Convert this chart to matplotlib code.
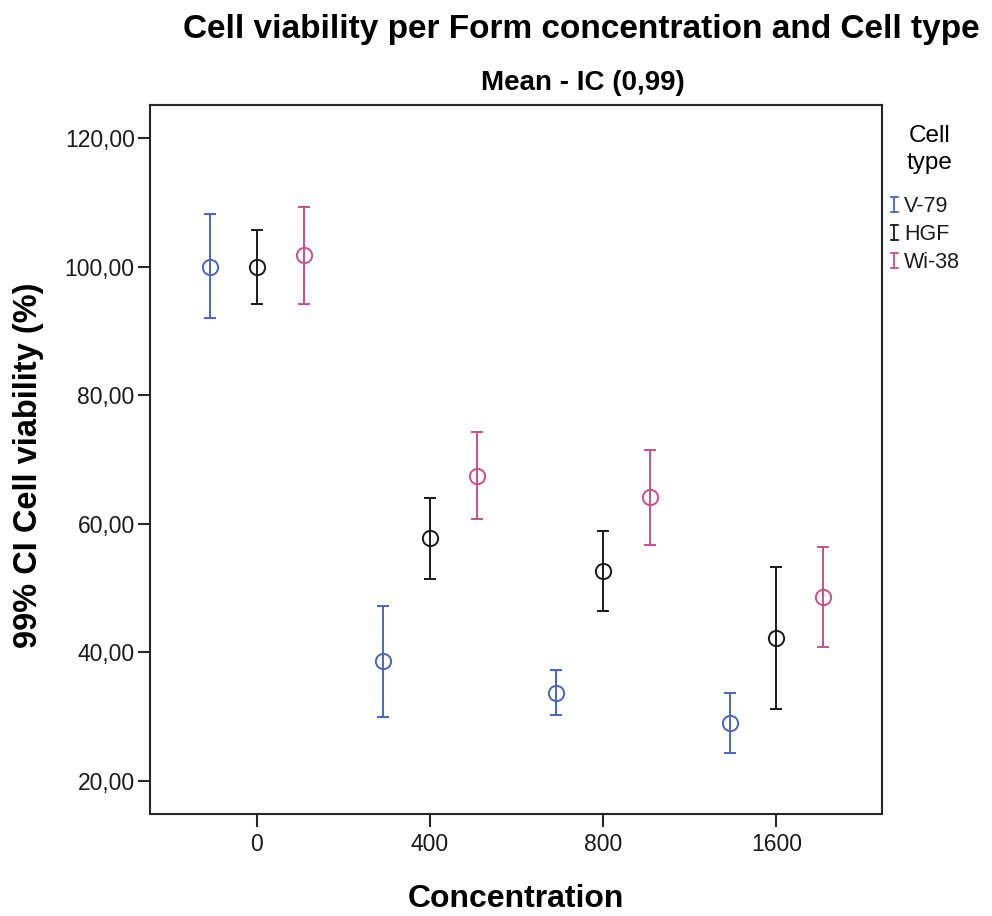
import matplotlib
matplotlib.use("Agg")
import matplotlib.pyplot as plt
from matplotlib.lines import Line2D
from matplotlib.ticker import FuncFormatter
import numpy as np

# ------------------------------------------------------------
# Data
# ------------------------------------------------------------
concentrations = ["0", "400", "800", "1600"]
cell_types = ["V-79", "HGF", "Wi-38"]

v79_mean = [100.0, 38.7, 33.7, 29.0]
v79_low = [92.0, 29.9, 30.2, 24.4]
v79_high = [108.2, 47.3, 37.2, 33.7]

hgf_mean = [100.0, 57.8, 52.7, 42.2]
hgf_low = [94.2, 51.4, 46.5, 31.2]
hgf_high = [105.8, 64.1, 58.9, 53.3]

wi38_mean = [101.8, 67.5, 64.2, 48.6]
wi38_low = [94.3, 60.7, 56.7, 40.8]
wi38_high = [109.3, 74.3, 71.5, 56.4]

y_ticks = [20, 40, 60, 80, 100, 120]

# ------------------------------------------------------------
# Style
# ------------------------------------------------------------
plt.rcParams["font.family"] = ["Liberation Sans", "DejaVu Sans"]
colors = ["#4a64c6", "#1a1a1a", "#cf4d8c"]
offsets = [-0.27, 0.0, 0.27]
spine_color = "#262626"
W, H = 992, 916


def fx(px):
    return px / W


def fy(py):
    return 1 - py / H


fig = plt.figure(figsize=(W / 100, H / 100), dpi=100)
ax = fig.add_axes([0.1512, 0.1114, 0.7378, 0.774])

series = [
    (v79_mean, v79_low, v79_high),
    (hgf_mean, hgf_low, hgf_high),
    (wi38_mean, wi38_low, wi38_high),
]

x = np.arange(len(concentrations))
for (mean, low, high), col, off in zip(series, colors, offsets):
    mean = np.array(mean)
    yerr = [mean - np.array(low), np.array(high) - mean]
    ax.errorbar(x + off, mean, yerr=yerr, fmt="none", ecolor=col,
                elinewidth=1.4, capsize=4, capthick=1.4)
    ax.plot(x + off, mean, linestyle="none", marker="o", markersize=11,
            markerfacecolor="none", markeredgecolor=col, markeredgewidth=1.4)

ax.set_xlim(-0.617, 3.61)
ax.set_ylim(14.86, 125.2)
ax.set_xticks(x)
ax.set_xticklabels(concentrations)
ax.set_yticks(y_ticks)
ax.yaxis.set_major_formatter(FuncFormatter(lambda v, p: f"{v:.2f}".replace(".", ",")))

for s in ax.spines.values():
    s.set_color(spine_color)
    s.set_linewidth(1.5)
ax.tick_params(axis="both", direction="out", length=9, width=1.5,
               color=spine_color, labelsize=16.5, labelcolor="#1a1a1a")
ax.tick_params(axis="y", pad=2)
ax.tick_params(axis="x", pad=5)

# Titles and axis labels
fig.text(fx(581), fy(38), "Cell viability per Form concentration and Cell type",
         ha="center", va="baseline", fontsize=24, fontweight="bold")
fig.text(fx(583), fy(90), "Mean - IC (0,99)",
         ha="center", va="baseline", fontsize=20, fontweight="bold")
fig.text(fx(29), fy(465), "99% CI Cell viability (%)",
         ha="center", va="center", rotation=90, fontsize=23.5, fontweight="bold")
fig.text(fx(516), fy(907), "Concentration",
         ha="center", va="baseline", fontsize=23, fontweight="bold")

# Legend (drawn by hand to get the I-shaped error bar keys)
fig.text(fx(930), fy(142), "Cell", ha="center", va="baseline", fontsize=17.5)
fig.text(fx(930), fy(169), "type", ha="center", va="baseline", fontsize=17.5)
legend_baselines = [212, 240, 268]
for name, col, base in zip(cell_types, colors, legend_baselines):
    top, bot, xc, half = base - 15, base, 894, 3.5
    fig.add_artist(Line2D([fx(xc), fx(xc)], [fy(top), fy(bot)], color=col, lw=1.3))
    fig.add_artist(Line2D([fx(xc - half), fx(xc + half)], [fy(top), fy(top)], color=col, lw=1.3))
    fig.add_artist(Line2D([fx(xc - half), fx(xc + half)], [fy(bot), fy(bot)], color=col, lw=1.3))
    fig.text(fx(904), fy(base), name, ha="left", va="baseline", fontsize=15.5,
             color="#1a1a1a")

fig.savefig("out.png", dpi=100)
